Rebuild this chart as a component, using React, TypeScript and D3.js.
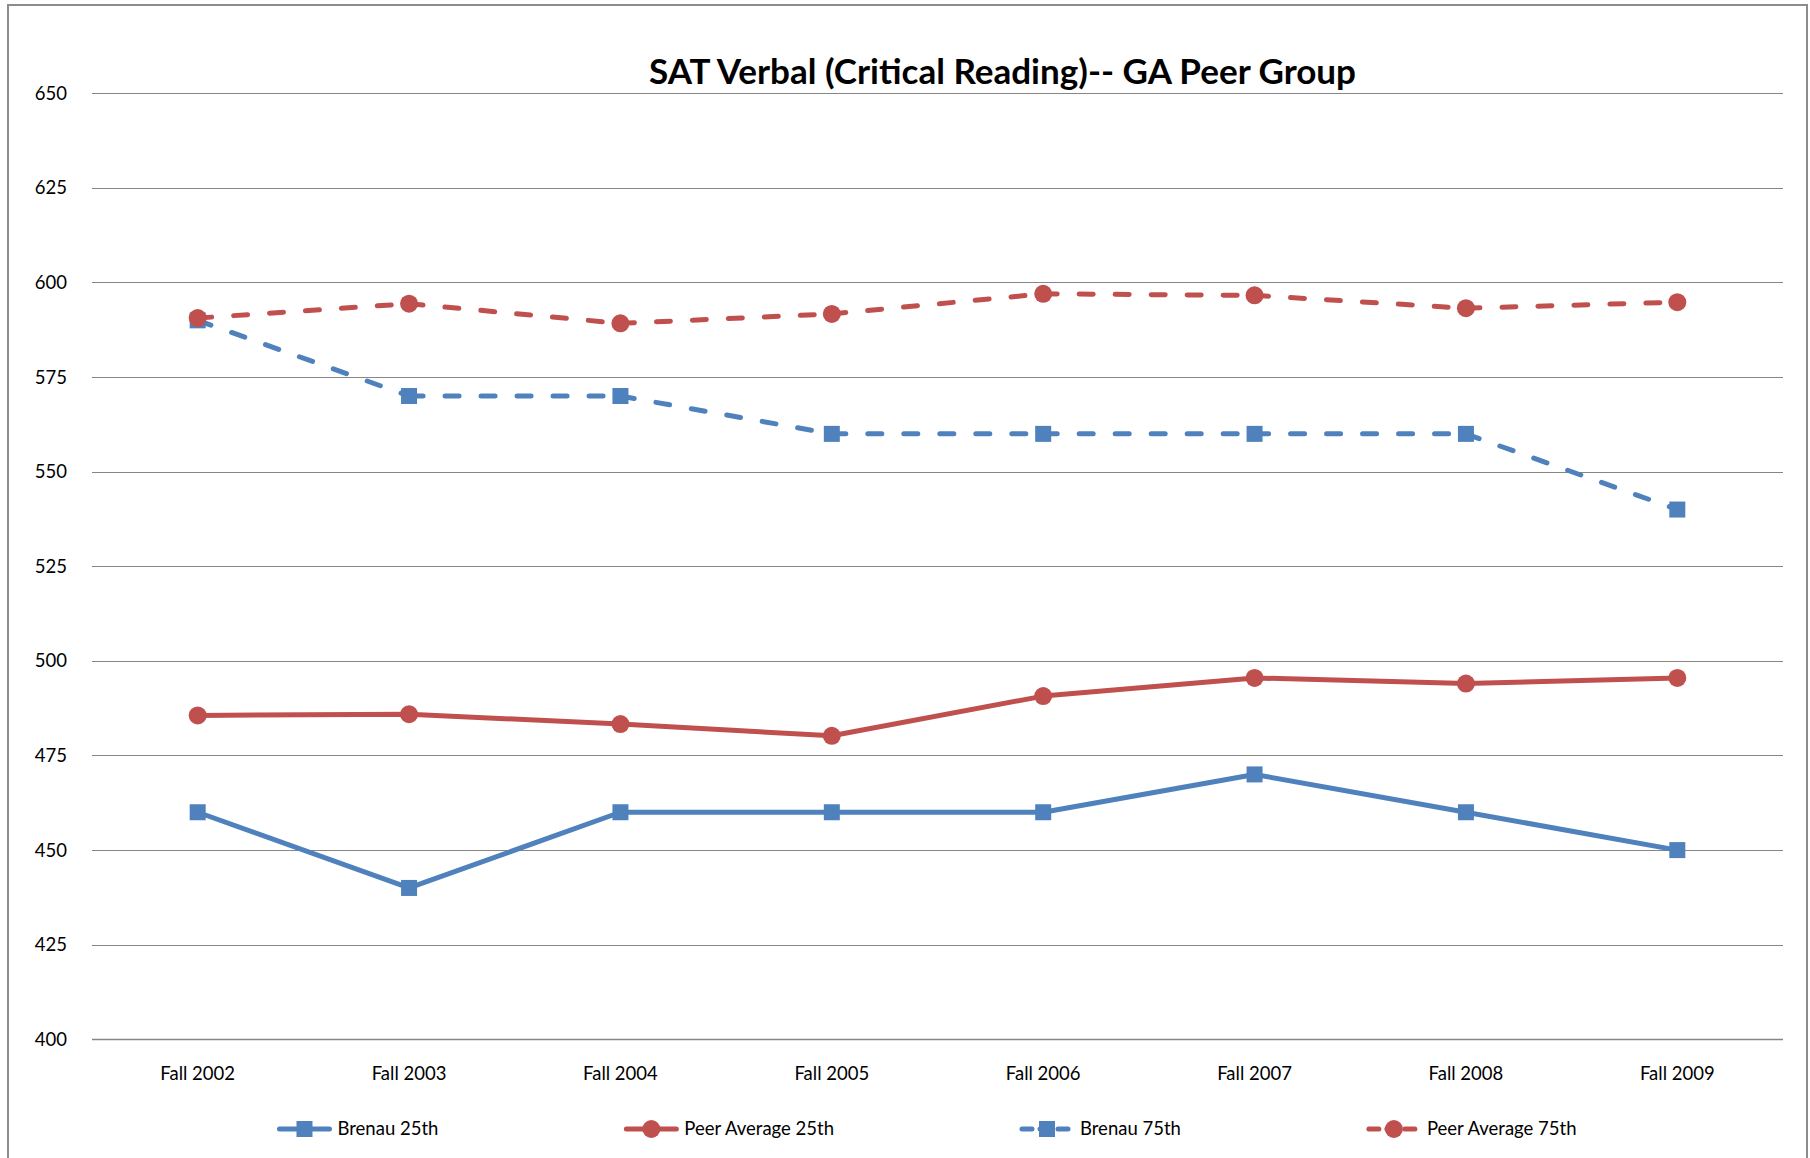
import React, { useRef, useEffect } from "react";
import * as d3 from "d3";

// chart values
const categories = [
  "Fall 2002",
  "Fall 2003",
  "Fall 2004",
  "Fall 2005",
  "Fall 2006",
  "Fall 2007",
  "Fall 2008",
  "Fall 2009",
];
const brenau25 = [460, 440, 460, 460, 460, 470, 460, 450];
const peer25 = [485.6, 485.9, 483.3, 480.2, 490.7, 495.5, 494.0, 495.5];
const brenau75 = [590, 570, 570, 560, 560, 560, 560, 540];
const peer75 = [590.6, 594.4, 589.2, 591.7, 597.0, 596.6, 593.2, 594.8];
const yTicks = [400, 425, 450, 475, 500, 525, 550, 575, 600, 625, 650];
const title = "SAT Verbal (Critical Reading)-- GA Peer Group";

const BLUE = "#4F81BD";
const RED = "#C0504D";

const series = [
  { name: "Brenau 25th", values: brenau25, color: BLUE, marker: "square", dashed: false },
  { name: "Peer Average 25th", values: peer25, color: RED, marker: "circle", dashed: false },
  { name: "Brenau 75th", values: brenau75, color: BLUE, marker: "square", dashed: true },
  { name: "Peer Average 75th", values: peer75, color: RED, marker: "circle", dashed: true },
];

const W = 1810;
const H = 1158;
const FONT = "Lato, 'Noto Sans', sans-serif";

function drawMarker(g, type, x, y, color) {
  if (type === "square") {
    g.append("rect")
      .attr("x", x - 8)
      .attr("y", y - 8)
      .attr("width", 16)
      .attr("height", 16)
      .attr("fill", color);
  } else {
    g.append("circle").attr("cx", x).attr("cy", y).attr("r", 9).attr("fill", color);
  }
}

function SatChart() {
  const svgRef = useRef(null);

  useEffect(() => {
    const svg = d3.select(svgRef.current);
    svg.selectAll("*").remove();

    // outer chart frame
    svg
      .append("rect")
      .attr("x", 8)
      .attr("y", 5)
      .attr("width", 1799)
      .attr("height", 1200)
      .attr("fill", "#fff")
      .attr("stroke", "#8c8c8c")
      .attr("stroke-width", 2);

    const plot = { left: 92, right: 1783, top: 93.3, bottom: 1039.3 };

    const x = d3
      .scalePoint()
      .domain(categories)
      .range([plot.left, plot.right])
      .padding(0.5);
    const y = d3.scaleLinear().domain([400, 650]).range([plot.bottom, plot.top]);

    // title
    svg
      .append("text")
      .attr("x", 649)
      .attr("y", 84)
      .attr("font-family", FONT)
      .attr("font-weight", "bold")
      .attr("font-size", 35)
      .attr("textLength", 707)
      .attr("lengthAdjust", "spacingAndGlyphs")
      .attr("fill", "#000")
      .text(title);

    // gridlines + y labels
    const yAxis = svg.append("g");
    yAxis
      .selectAll("line")
      .data(yTicks)
      .join("line")
      .attr("x1", plot.left)
      .attr("x2", plot.right)
      .attr("y1", (d) => Math.round(y(d)) + 0.5)
      .attr("y2", (d) => Math.round(y(d)) + 0.5)
      .attr("stroke", "#868686")
      .attr("stroke-width", (d) => (d === 400 ? 1.5 : 1.2));
    yAxis
      .selectAll("text")
      .data(yTicks)
      .join("text")
      .attr("x", 67)
      .attr("y", (d) => y(d))
      .attr("dy", "0.35em")
      .attr("text-anchor", "end")
      .attr("font-family", FONT)
      .attr("font-size", 18.5)
      .attr("fill", "#000")
      .text((d) => d);

    // x labels
    svg
      .append("g")
      .selectAll("text")
      .data(categories)
      .join("text")
      .attr("x", (d) => x(d))
      .attr("y", 1080)
      .attr("text-anchor", "middle")
      .attr("font-family", FONT)
      .attr("font-size", 18.5)
      .attr("fill", "#000")
      .text((d) => d);

    // series
    series.forEach((s) => {
      const g = svg.append("g");
      const pts = s.values.map((v, i) => [x(categories[i]), y(v)]);
      if (s.dashed) {
        // excel restarts the dash pattern on every segment
        d3.pairs(pts).forEach(([a, b]) => {
          g.append("path")
            .attr("d", d3.line()([a, b]))
            .attr("fill", "none")
            .attr("stroke", s.color)
            .attr("stroke-width", 5)
            .attr("stroke-linecap", "round")
            .attr("stroke-dasharray", "14 22");
        });
      } else {
        g.append("path")
          .attr("d", d3.line()(pts))
          .attr("fill", "none")
          .attr("stroke", s.color)
          .attr("stroke-width", 5)
          .attr("stroke-linejoin", "round")
          .attr("stroke-linecap", "round");
      }
      pts.forEach(([px, py]) => drawMarker(g, s.marker, px, py, s.color));
    });

    // legend, laid out from measured text widths
    const legend = svg.append("g");
    const lineLen = 54;
    const textGap = 6;
    const itemGap = 186;
    const items = series.map((s) => {
      const item = legend.append("g");
      const t = item
        .append("text")
        .attr("x", lineLen + textGap)
        .attr("y", 0)
        .attr("dy", "0.35em")
        .attr("font-family", FONT)
        .attr("font-size", 18.5)
        .attr("fill", "#000")
        .text(s.name);
      const tw = t.node().getComputedTextLength();
      item
        .append("line")
        .attr("x1", 2)
        .attr("x2", lineLen - 2)
        .attr("y1", 0)
        .attr("y2", 0)
        .attr("stroke", s.color)
        .attr("stroke-width", 5)
        .attr("stroke-linecap", "round")
        .attr("stroke-dasharray", s.dashed ? "10 8" : null);
      drawMarker(item, s.marker, lineLen / 2, 0, s.color);
      return { item, width: lineLen + textGap + tw };
    });
    const total = d3.sum(items, (d) => d.width) + itemGap * (items.length - 1);
    let cx = 927 - total / 2;
    items.forEach((d) => {
      d.item.attr("transform", `translate(${cx}, 1129)`);
      cx += d.width + itemGap;
    });
  }, []);

  return <svg ref={svgRef} width={W} height={H} style={{ display: "block" }} />;
}

export default function App() {
  return (
    <div style={{ position: "absolute", left: 0, top: 0, background: "#fff" }}>
      <SatChart />
    </div>
  );
}
